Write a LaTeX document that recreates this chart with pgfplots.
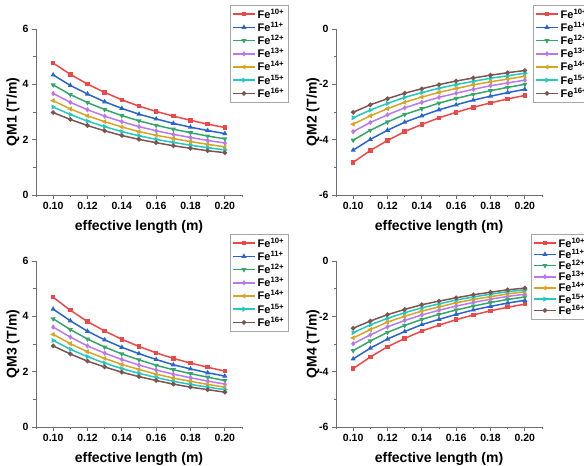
\documentclass[border=0pt]{standalone}
\usepackage{fontspec}
\setmainfont{Liberation Sans}
\usepackage{pgfplots}
\usepackage{pgfplotstable}
\pgfplotsset{compat=1.18}

\definecolor{c1}{RGB}{236,72,72}
\definecolor{c2}{RGB}{40,100,205}
\definecolor{c3}{RGB}{55,165,105}
\definecolor{c4}{RGB}{185,120,235}
\definecolor{c5}{RGB}{215,165,35}
\definecolor{c6}{RGB}{35,200,190}
\definecolor{c7}{RGB}{125,85,80}
\definecolor{axgray}{RGB}{110,110,110}

\pgfplotstableread{
L a b c d e f g
0.10 4.77 4.34 3.98 3.67 3.41 3.18 2.98
0.11 4.36 3.96 3.63 3.35 3.11 2.91 2.73
0.12 4.01 3.65 3.34 3.08 2.86 2.67 2.51
0.13 3.71 3.37 3.09 2.85 2.65 2.47 2.32
0.14 3.44 3.13 2.87 2.65 2.46 2.29 2.15
0.15 3.21 2.92 2.68 2.47 2.29 2.14 2.01
0.16 3.02 2.75 2.52 2.32 2.16 2.01 1.89
0.17 2.85 2.59 2.38 2.19 2.04 1.90 1.78
0.18 2.70 2.45 2.25 2.08 1.93 1.80 1.69
0.19 2.56 2.33 2.13 1.97 1.83 1.71 1.60
0.20 2.44 2.22 2.03 1.88 1.74 1.63 1.53
}\qmone

\pgfplotstableread{
L a b c d e f g
0.10 -4.82 -4.38 -4.02 -3.71 -3.44 -3.21 -3.01
0.11 -4.39 -3.99 -3.66 -3.38 -3.14 -2.93 -2.74
0.12 -4.03 -3.66 -3.36 -3.10 -2.88 -2.69 -2.52
0.13 -3.71 -3.37 -3.09 -2.85 -2.65 -2.47 -2.32
0.14 -3.45 -3.14 -2.88 -2.65 -2.46 -2.30 -2.16
0.15 -3.21 -2.92 -2.68 -2.47 -2.29 -2.14 -2.01
0.16 -3.01 -2.74 -2.51 -2.32 -2.15 -2.01 -1.88
0.17 -2.83 -2.57 -2.36 -2.18 -2.02 -1.89 -1.77
0.18 -2.67 -2.43 -2.23 -2.05 -1.91 -1.78 -1.67
0.19 -2.53 -2.30 -2.11 -1.95 -1.81 -1.69 -1.58
0.20 -2.40 -2.18 -2.00 -1.85 -1.71 -1.60 -1.50
}\qmtwo

\pgfplotstableread{
L a b c d e f g
0.10 4.69 4.26 3.91 3.61 3.35 3.13 2.93
0.11 4.22 3.84 3.52 3.25 3.01 2.81 2.64
0.12 3.81 3.46 3.18 2.93 2.72 2.54 2.38
0.13 3.47 3.15 2.89 2.67 2.48 2.31 2.17
0.14 3.17 2.88 2.64 2.44 2.26 2.11 1.98
0.15 2.91 2.65 2.43 2.24 2.08 1.94 1.82
0.16 2.68 2.44 2.23 2.06 1.91 1.79 1.68
0.17 2.48 2.25 2.07 1.91 1.77 1.65 1.55
0.18 2.31 2.10 1.93 1.78 1.65 1.54 1.44
0.19 2.16 1.96 1.80 1.66 1.54 1.44 1.35
0.20 2.02 1.84 1.68 1.55 1.44 1.35 1.26
}\qmthree

\pgfplotstableread{
L a b c d e f g
0.10 -3.89 -3.54 -3.24 -2.99 -2.78 -2.59 -2.43
0.11 -3.47 -3.15 -2.89 -2.67 -2.48 -2.31 -2.17
0.12 -3.10 -2.82 -2.58 -2.38 -2.21 -2.07 -1.94
0.13 -2.80 -2.55 -2.33 -2.15 -2.00 -1.87 -1.75
0.14 -2.53 -2.30 -2.11 -1.95 -1.81 -1.69 -1.58
0.15 -2.32 -2.11 -1.93 -1.78 -1.66 -1.55 -1.45
0.16 -2.12 -1.93 -1.77 -1.63 -1.51 -1.41 -1.33
0.17 -1.95 -1.77 -1.63 -1.50 -1.39 -1.30 -1.22
0.18 -1.80 -1.64 -1.50 -1.38 -1.29 -1.20 -1.13
0.19 -1.67 -1.52 -1.39 -1.28 -1.19 -1.11 -1.04
0.20 -1.56 -1.42 -1.30 -1.20 -1.11 -1.04 -0.98
}\qmfour

\pgfplotsset{
  panel/.style={
    scale only axis, width=206pt, height=166pt,
    xmin=0.09, xmax=0.21,
    axis x line*=bottom, axis y line*=left,
    axis line style={line width=0.7pt, draw=axgray},
    every tick/.style={line width=0.7pt, draw=axgray},
    tick align=outside,
    major tick length=4pt, minor tick length=2.5pt,
    xtick={0.10,0.12,0.14,0.16,0.18,0.20},
    xticklabels={0.10,0.12,0.14,0.16,0.18,0.20},
    minor xtick={0.09,0.11,0.13,0.15,0.17,0.19,0.21},
    ticklabel style={font=\bfseries\fontsize{10.5}{12}\selectfont},
    xlabel={effective length (m)},
    every axis x label/.style={at={(axis description cs:0.5,0)}, anchor=center, yshift=-32pt, font=\bfseries\fontsize{14}{16}\selectfont},
    every axis y label/.style={at={(axis description cs:0,0.5)}, xshift=-23pt, rotate=90, anchor=center, font=\bfseries\fontsize{14}{16}\selectfont},
    legend cell align=left,
    legend style={draw=black!35, line width=0.4pt, fill=white, font=\bfseries\fontsize{11}{13}\selectfont, inner xsep=2pt, inner ysep=1.5pt, row sep=-1.6pt},
    legend image code/.code={\draw[mark repeat=2,mark phase=2,#1] plot coordinates {(0pt,0pt) (11pt,0pt) (22pt,0pt)};},
    every axis plot/.append style={line width=1.5pt, mark size=1.5pt, mark options={solid}},
  },
  pos/.style={ytick={0,2,4,6}, yticklabels={0,2,4,6}, minor ytick={1,3,5}, ymin=0, ymax=6},
  neg/.style={ytick={-6,-4,-2,0}, yticklabels={-6,-4,-2,0}, minor ytick={-5,-3,-1}, ymin=-6, ymax=0},
}

\newcommand{\sevenplots}[1]{%
  \addplot[c1, mark=square*] table[x=L,y=a]{#1};
  \addplot[c2, mark=triangle*] table[x=L,y=b]{#1};
  \addplot[c3, mark=triangle*, mark options={rotate=180}] table[x=L,y=c]{#1};
  \addplot[c4, mark=diamond*] table[x=L,y=d]{#1};
  \addplot[c5, mark=triangle*, mark options={rotate=90}] table[x=L,y=e]{#1};
  \addplot[c6, mark=triangle*, mark options={rotate=-90}] table[x=L,y=f]{#1};
  \addplot[c7, mark=*] table[x=L,y=g]{#1};
  \legend{Fe\textsuperscript{10+},Fe\textsuperscript{11+},Fe\textsuperscript{12+},Fe\textsuperscript{13+},Fe\textsuperscript{14+},Fe\textsuperscript{15+},Fe\textsuperscript{16+}}
}

\begin{document}
\begin{tikzpicture}
\useasboundingbox (0,0) rectangle (584pt,466pt);
\clip (0,0) rectangle (584pt,466pt);

\begin{axis}[panel, pos, at={(36pt,271pt)}, anchor=south west, ylabel={QM1 (T/m)},
  legend style={at={(1,1)}, anchor=north west, xshift=-12pt, yshift=24pt}]
\sevenplots{\qmone}
\end{axis}

\begin{axis}[panel, neg, at={(336pt,271pt)}, anchor=south west, ylabel={QM2 (T/m)},
  legend style={at={(1,1)}, anchor=north west, xshift=-9pt, yshift=24pt}]
\sevenplots{\qmtwo}
\end{axis}

\begin{axis}[panel, pos, at={(36pt,39pt)}, anchor=south west, ylabel={QM3 (T/m)},
  legend style={at={(1,1)}, anchor=north west, xshift=-12pt, yshift=27pt}]
\sevenplots{\qmthree}
\end{axis}

\begin{axis}[panel, neg, at={(336pt,39pt)}, anchor=south west, ylabel={QM4 (T/m)},
  legend style={at={(1,1)}, anchor=north west, xshift=-11pt, yshift=27pt, row sep=-3.6pt}]
\sevenplots{\qmfour}
\end{axis}
\end{tikzpicture}
\end{document}
